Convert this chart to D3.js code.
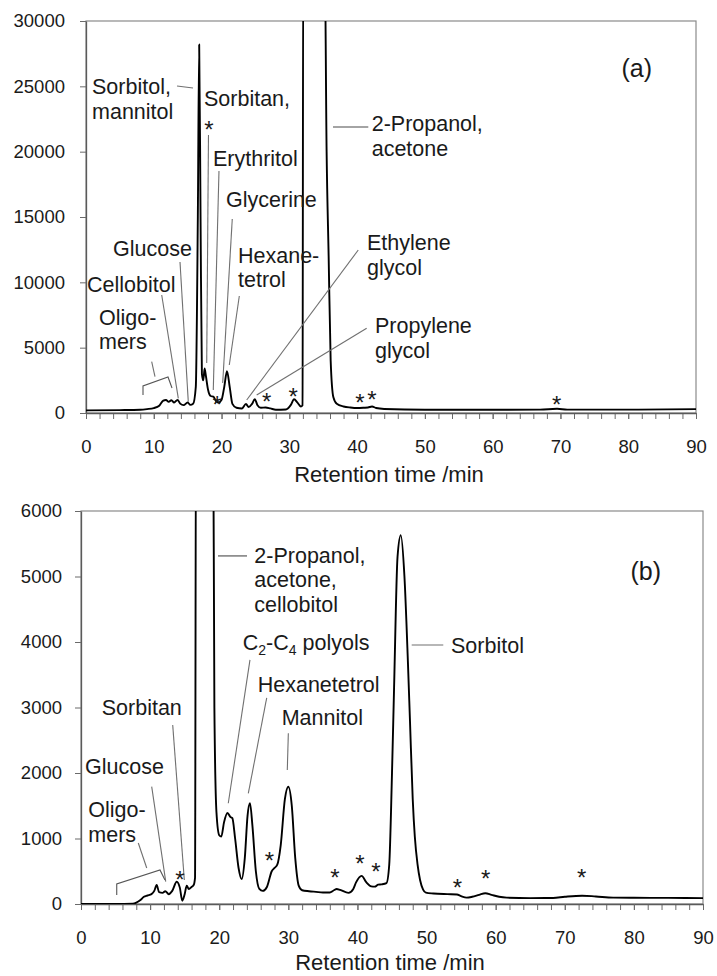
<!DOCTYPE html>
<html lang="en">
<head>
<meta charset="UTF-8">
<title>Chromatograms (a) and (b)</title>
<script src="https://d3js.org/d3.v7.min.js"></script>
<style>
    body { margin: 0; background: #fff; }
    svg text { font-family: "Liberation Sans", Arial, sans-serif; fill: #1a1a1a; }
    .tick text { font-size: 18.5px; }
    .lbl { font-size: 21.5px; }
    .star { font-size: 24px; }
</style>
</head>
<body>
<div id="chart"></div>
<script>
    // retention time (min) / detector signal
    const traceA = [
        [0, 200], [5, 220], [8, 250], [9, 300], [10, 380], [10.8, 560], [11.4, 950], [11.8, 1000],
        [12.2, 850], [12.6, 980], [13.0, 800], [13.5, 1000], [13.9, 720], [14.4, 600], [15.0, 800],
        [15.4, 620], [15.8, 700], [16.2, 2000], [16.5, 15000], [16.7, 28200], [16.9, 15000],
        [17.1, 3000], [17.3, 2500], [17.5, 3400], [17.7, 2800], [18.0, 1800], [18.4, 1300],
        [18.8, 1250], [19.2, 900], [19.6, 800], [20.0, 1000], [20.4, 2000], [20.8, 3200],
        [21.2, 2000], [21.6, 700], [22.2, 400], [23.0, 350], [23.6, 700], [24.0, 450], [24.5, 700],
        [24.9, 1050], [25.3, 600], [25.8, 400], [26.5, 420], [27.2, 350], [28, 250], [29.5, 270],
        [30.2, 600], [30.7, 1050], [31.2, 800], [31.7, 500], [31.95, 600], [32.05, 36000],
        [35.2, 36000], [35.5, 20000], [35.8, 12000], [36.1, 4000], [36.5, 1200], [37, 700],
        [38, 500], [39, 420], [40, 380], [41, 400], [41.6, 420], [42.2, 500], [42.8, 380],
        [44, 310], [50, 250], [60, 250], [67, 260], [69.5, 320], [71, 260], [80, 260], [90, 300]
    ];

    const traceB = [
        [0, 0], [5, 0], [7.5, 5], [8, 20], [8.6, 60], [9.1, 110], [9.6, 130], [10.2, 150],
        [10.6, 200], [10.95, 290], [11.3, 180], [11.8, 170], [12.2, 195], [12.7, 150], [13.2, 200],
        [13.85, 340], [14.3, 250], [14.65, 50], [15.0, 150], [15.3, 280], [15.6, 230], [16.0, 260],
        [16.3, 290], [16.5, 400], [16.65, 8000], [19.1, 8000], [19.3, 3000], [19.6, 1400],
        [20.0, 1050], [20.3, 1030], [20.7, 1250], [21.2, 1390], [21.6, 1330], [21.9, 1310],
        [22.3, 1000], [22.8, 550], [23.25, 380], [23.7, 700], [24.1, 1350], [24.45, 1540],
        [24.8, 1200], [25.3, 500], [25.8, 230], [26.3, 200], [26.9, 260], [27.6, 500], [28.0, 550],
        [28.4, 600], [28.9, 900], [29.5, 1600], [30.0, 1790], [30.5, 1500], [31.0, 700],
        [31.5, 280], [32, 210], [33, 195], [34, 185], [35, 175], [36, 175], [36.6, 210], [37.0, 230],
        [37.5, 215], [38.7, 170], [39.4, 230], [39.8, 330], [40.6, 430], [41.3, 330], [42.0, 270],
        [42.5, 265], [43.0, 295], [43.5, 300], [44.2, 320], [44.6, 600], [45.0, 2000], [45.3, 3300],
        [45.8, 5300], [46.27, 5630], [46.8, 5000], [47.3, 3700], [47.6, 2800], [48.0, 1600],
        [48.3, 1030], [48.7, 600], [49.06, 366], [49.5, 220], [49.9, 173], [51, 160], [53, 150],
        [54.4, 145], [55.0, 120], [55.8, 97], [56.6, 110], [57.6, 140], [58.5, 165], [59.4, 140],
        [60.5, 110], [61.6, 97], [65, 90], [68.3, 92], [70, 110], [72.5, 127], [74.5, 115],
        [77, 97], [80, 95], [85, 93], [90, 90]
    ];

    const xTicks = [0, 10, 20, 30, 40, 50, 60, 70, 80, 90];
    const yTicksA = [0, 5000, 10000, 15000, 20000, 25000, 30000];
    const yTicksB = [0, 1000, 2000, 3000, 4000, 5000, 6000];

    // annotations in data units: text anchor [t, v], leader line [[t, v], [t, v]]
    const notesA = [
        { text: ["Sorbitol,", "mannitol"], at: [0.89, 24413], line: [[13.43, 25025], [15.79, 24872]] },
        { text: ["Sorbitan,"], at: [17.41, 23495], line: [[18.07, 21274], [17.81, 3827]] },
        { text: ["Erythritol"], at: [18.74, 18903], line: [[19.62, 18520], [18.78, 1760]] },
        { text: ["Glycerine"], at: [20.66, 15765], line: [[21.58, 14847], [20.17, 2296]] },
        { text: ["Hexane-", "tetrol"], at: [22.43, 11480], line: [[22.62, 8954], [21.14, 3673]] },
        { text: ["Glucose"], at: [3.98, 12015], line: [[13.87, 11556], [15.09, 865]] },
        { text: ["Cellobitol"], at: [0.15, 9260], line: [[11.17, 9031], [13.62, 1125]] },
        { text: ["Oligo-", "mers"], at: [1.92, 6735], line: [[9.69, 3926], [10.18, 2778]] },
        { text: ["Ethylene", "glycol"], at: [41.46, 12474], line: [[40.17, 12474], [23.71, 995]] },
        { text: ["Propylene", "glycol"], at: [42.64, 6122], line: [[41.41, 6482], [25.18, 1378]] },
        { text: ["2-Propanol,", "acetone"], at: [42.15, 21581], line: [[36.44, 21887], [41.65, 21887]], dark: true }
    ];
    const bracketA = [[8.41, 1378], [8.41, 2066], [12.10, 2755], [12.69, 1913]];
    const starsA = [[18.15, 22040], [19.37, 995], [26.66, 1224], [30.58, 1607], [40.42, 1148], [42.20, 1378], [69.44, 995]];

    const notesB = [
        { text: ["2-Propanol,", "acetone,", "cellobitol"], at: [25.08, 5207], line: [[19.82, 5314], [24.02, 5314]], dark: true },
        { text: ["C2-C4 polyols"], at: [23.40, 3879], line: [[24.45, 3726], [21.31, 1538]], sub: true },
        { text: ["Hexanetetrol"], at: [25.57, 3237], line: [[26.87, 3146], [24.21, 1690]] },
        { text: ["Mannitol"], at: [29.04, 2733], line: [[30.00, 2607], [29.85, 2046]] },
        { text: ["Sorbitol"], at: [53.54, 3833], line: [[47.85, 3955], [52.42, 3955]] },
        { text: ["Sorbitan"], at: [3.0, 2886], line: [[13.27, 2733], [14.95, 366]] },
        { text: ["Glucose"], at: [0.58, 1985], line: [[10.23, 1791], [12.26, 341]] },
        { text: ["Oligo-", "mers"], at: [1.06, 1328], line: [[8.29, 931], [9.51, 550]] }
    ];
    const bracketB = [[5.17, 137], [5.17, 305], [11.43, 519], [12.15, 366]];
    const starsB = [[14.33, 443], [27.25, 733], [36.75, 478], [40.37, 683], [42.69, 570], [54.45, 316], [58.56, 458], [72.45, 478]];

    const width = 717, height = 976;

    const svg = d3.select("#chart").append("svg")
        .attr("width", width)
        .attr("height", height);

    function drawPanel(cfg) {
        const x = d3.scaleLinear().domain([0, 90]).range([cfg.left, cfg.right]);
        const y = d3.scaleLinear().domain([0, cfg.ymax]).range([cfg.bottom, cfg.top]);

        const g = svg.append("g");

        // plot frame
        g.append("rect")
            .attr("x", cfg.left).attr("y", cfg.top)
            .attr("width", cfg.right - cfg.left).attr("height", cfg.bottom - cfg.top)
            .attr("fill", "none").attr("stroke", "#8a8a8a").attr("stroke-width", 1.2);

        // minor x ticks every 2 min
        g.append("g")
            .attr("transform", `translate(0,${cfg.bottom})`)
            .call(d3.axisBottom(x).tickValues(d3.range(0, 91, 2)).tickSize(6).tickFormat(""))
            .call(a => a.select(".domain").remove())
            .call(a => a.selectAll("line").attr("stroke", "#6a6a6a"));

        g.append("g")
            .attr("transform", `translate(0,${cfg.bottom})`)
            .call(d3.axisBottom(x).tickValues(xTicks).tickSize(6).tickPadding(21).tickSizeOuter(0))
            .call(a => a.select(".domain").attr("stroke", "#5a5a5a").attr("stroke-width", 1.3))
            .call(a => a.selectAll("line").attr("stroke", "#6a6a6a"));

        g.append("g")
            .attr("transform", `translate(${cfg.left},0)`)
            .call(d3.axisLeft(y).tickValues(cfg.yTicks).tickFormat(d3.format("d"))
                .tickSize(6).tickPadding(cfg.yPad).tickSizeOuter(0))
            .call(a => a.select(".domain").attr("stroke", "#5a5a5a").attr("stroke-width", 1.3))
            .call(a => a.selectAll("line").attr("stroke", "#6a6a6a"));

        g.selectAll(".tick text").attr("fill", "#1a1a1a").style("font-family", '"Liberation Sans", Arial, sans-serif');

        g.append("text")
            .attr("x", (cfg.left + cfg.right) / 2 - 2)
            .attr("y", cfg.bottom + cfg.titleGap)
            .attr("text-anchor", "middle")
            .style("font-size", "22px")
            .text("Retention time /min");

        const clipId = "clip" + cfg.name;
        svg.append("clipPath").attr("id", clipId)
            .append("rect")
            .attr("x", cfg.left).attr("y", cfg.top)
            .attr("width", cfg.right - cfg.left).attr("height", cfg.bottom - cfg.top);

        const line = d3.line()
            .x(d => x(d[0]))
            .y(d => y(d[1]))
            .curve(d3.curveMonotoneX);

        g.append("path")
            .datum(cfg.trace)
            .attr("clip-path", `url(#${clipId})`)
            .attr("d", line)
            .attr("fill", "none")
            .attr("stroke", "#000")
            .attr("stroke-width", 1.9)
            .attr("stroke-linejoin", "round");

        // leader lines and labels
        cfg.notes.forEach(n => {
            g.append("line")
                .attr("x1", x(n.line[0][0])).attr("y1", y(n.line[0][1]))
                .attr("x2", x(n.line[1][0])).attr("y2", y(n.line[1][1]))
                .attr("stroke", n.dark ? "#4a4a4a" : "#707070")
                .attr("stroke-width", 1.1);

            const t = g.append("text")
                .attr("class", "lbl")
                .attr("x", x(n.at[0]))
                .attr("y", y(n.at[1]));
            if (n.sub) {
                t.append("tspan").text("C");
                t.append("tspan").attr("dy", 5).style("font-size", "14px").text("2");
                t.append("tspan").attr("dy", -5).text("-C");
                t.append("tspan").attr("dy", 5).style("font-size", "14px").text("4");
                t.append("tspan").attr("dy", -5).text(" polyols");
            } else {
                n.text.forEach((s, i) => {
                    t.append("tspan")
                        .attr("x", x(n.at[0]))
                        .attr("dy", i === 0 ? 0 : 24.5)
                        .text(s);
                });
            }
        });

        g.append("path")
            .datum(cfg.bracket)
            .attr("d", d3.line().x(d => x(d[0])).y(d => y(d[1])))
            .attr("fill", "none")
            .attr("stroke", "#555")
            .attr("stroke-width", 1.1);

        g.selectAll(".star")
            .data(cfg.stars)
            .enter()
            .append("text")
            .attr("class", "star")
            .attr("x", d => x(d[0]))
            .attr("y", d => y(d[1]) + 13)
            .attr("text-anchor", "middle")
            .text("*");

        g.append("text")
            .attr("x", x(cfg.tag[0]))
            .attr("y", y(cfg.tag[1]))
            .style("font-size", "25px")
            .text(cfg.name === "A" ? "(a)" : "(b)");
    }

    drawPanel({
        name: "A", left: 86, right: 696, top: 21, bottom: 413, ymax: 30000, yPad: 15, titleGap: 69,
        yTicks: yTicksA, trace: traceA, notes: notesA, bracket: bracketA, stars: starsA,
        tag: [79.0, 25700]
    });

    drawPanel({
        name: "B", left: 81, right: 703, top: 511, bottom: 904, ymax: 6000, yPad: 13, titleGap: 66,
        yTicks: yTicksB, trace: traceB, notes: notesB, bracket: bracketB, stars: starsB,
        tag: [79.5, 4950]
    });
</script>
</body>
</html>
